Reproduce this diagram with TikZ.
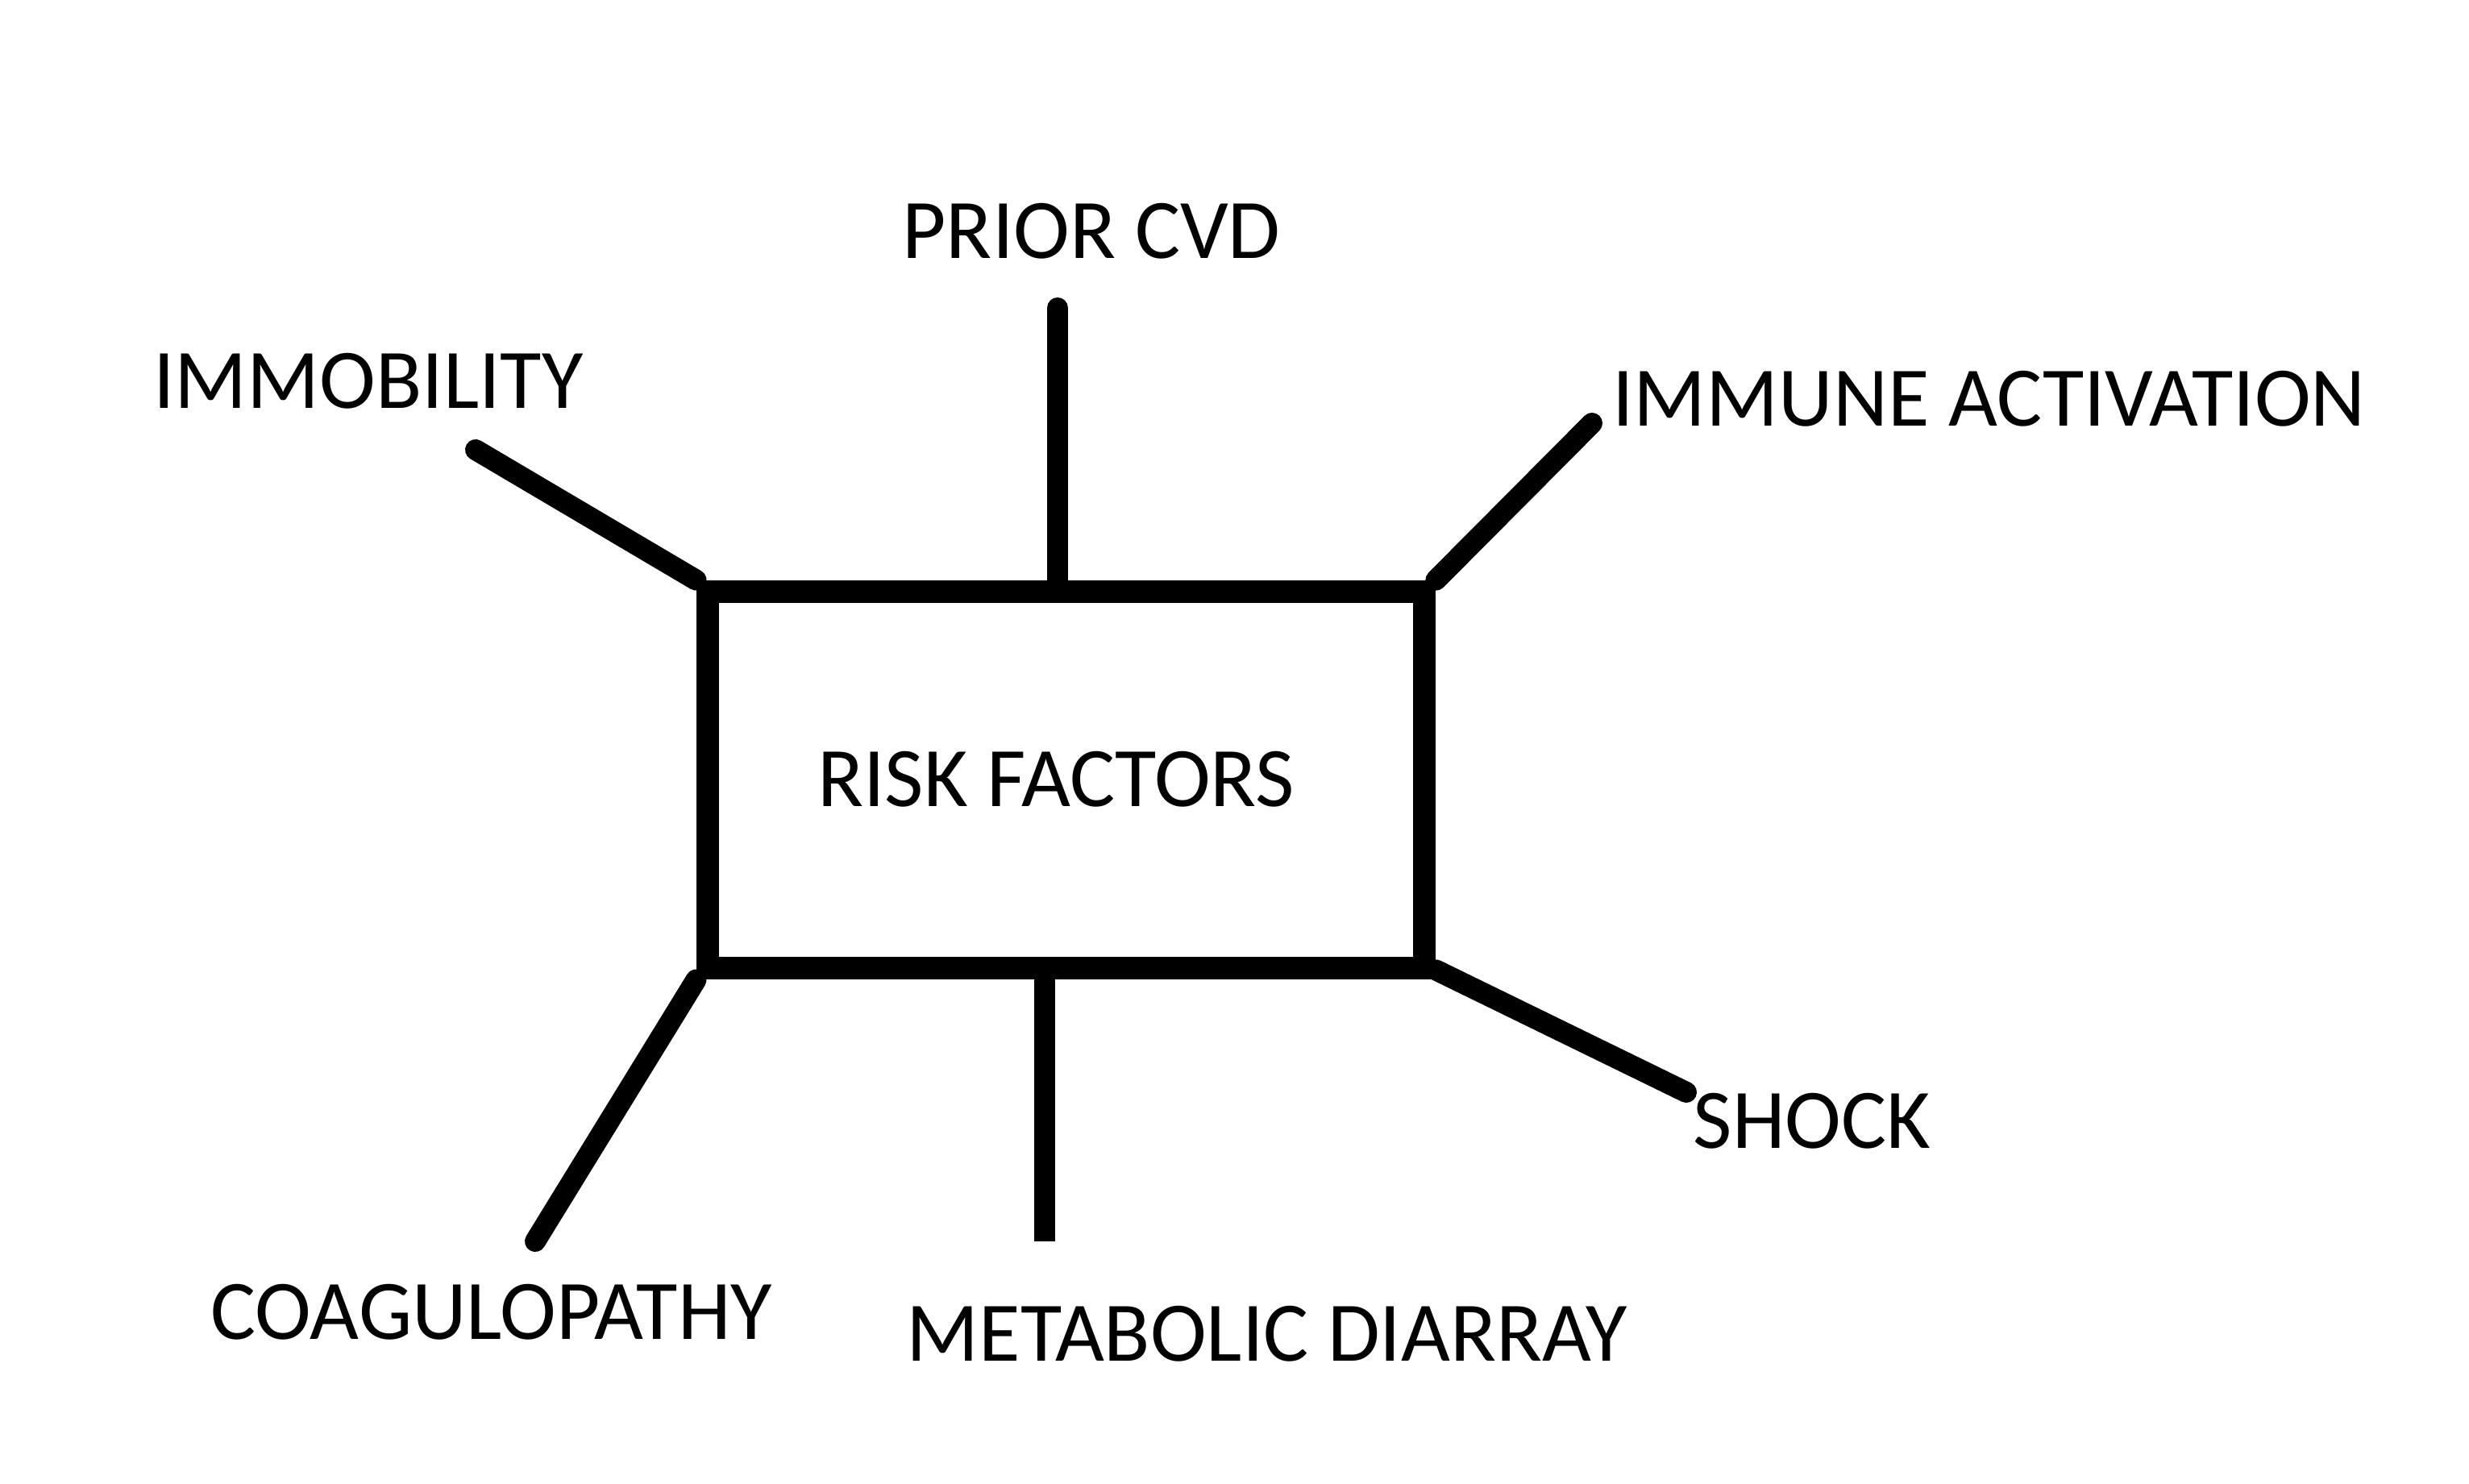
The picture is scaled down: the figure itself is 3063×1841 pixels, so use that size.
\documentclass[tikz,border=0pt]{standalone}
\usepackage{fontspec}
\setmainfont{Carlito}
\begin{document}
\begin{tikzpicture}[x=0.25pt,y=-0.25pt,
  lbl/.style={anchor=base,inner sep=0pt,font=\fontsize{26.3pt}{30pt}\selectfont},
  riskbox/.style={draw=black,line width=7.2pt,rectangle,inner sep=0pt,
    minimum width=222.25pt,minimum height=116.75pt},
  spoke/.style={draw=black,line width=6.5pt,line cap=round}]
\useasboundingbox[fill=white] (0,0) rectangle (3063,1841);
% central box
\node[riskbox] (risk) at (1322.5,967.5) {};
\node[lbl] (risktxt) at (1310,1000) {RISK FACTORS};
% labels
\node[lbl] (pcvd) at (1354,321) {PRIOR CVD};
\node[lbl] (immob) at (457,506) {IMMOBILITY};
\node[lbl] (immune) at (2467.5,528) {IMMUNE ACTIVATION};
\node[lbl] (shock) at (2248,1424) {SHOCK};
\node[lbl] (coag) at (609.5,1661) {COAGULOPATHY};
\node[lbl] (metab) at (1571.5,1688) {METABOLIC DIARRAY};
% free ends of spokes
\coordinate (pcvdend) at (1312,382);
\coordinate (immobend) at (590,558);
\coordinate (immuneend) at (1975,525);
\coordinate (shockend) at (2092,1355);
\coordinate (coagend) at (664,1540);
\coordinate (metabend) at (1296,1540);
% spokes
\draw[spoke] (pcvdend) -- (pcvdend |- risk.north);
\draw[spoke] (immobend) -- (risk.north west);
\draw[spoke] (immuneend) -- (risk.north east);
\draw[spoke] (shockend) -- ([yshift=3pt]risk.south east);
\draw[spoke] (coagend) -- (risk.south west);
\draw[spoke,line cap=butt] (metabend) -- (metabend |- risk.south);
\end{tikzpicture}
\end{document}
